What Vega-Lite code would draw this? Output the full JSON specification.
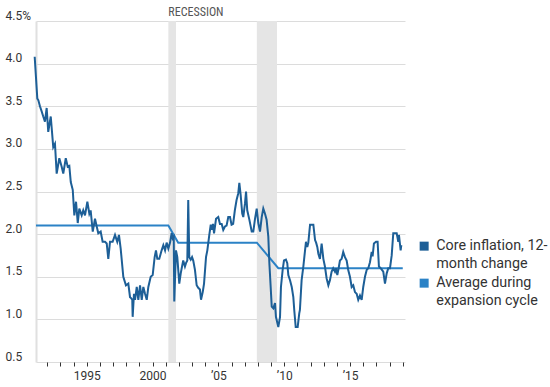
{
  "$schema": "https://vega.github.io/schema/vega-lite/v6.json",
  "width": 369,
  "height": 341,
  "autosize": "none",
  "padding": {"left": 36, "top": 21, "right": 145, "bottom": 25},
  "config": {
    "font": "Roboto",
    "view": {"stroke": null}
  },
  "resolve": {"axis": {"x": "independent"}},
  "datasets": {
    "rec": [
      {"start": 2001.2, "end": 2001.78, "top": 4.5, "label": "RECESSION"},
      {"start": 2007.92, "end": 2009.45, "top": 4.5, "label": ""}
    ],
    "avg": [
      {"year": 1991.15, "value": 2.1, "series": "Average during expansion cycle"},
      {"year": 2001.2, "value": 2.1, "series": "Average during expansion cycle"},
      {"year": 2001.95, "value": 1.9, "series": "Average during expansion cycle"},
      {"year": 2007.92, "value": 1.9, "series": "Average during expansion cycle"},
      {"year": 2009.55, "value": 1.6, "series": "Average during expansion cycle"},
      {"year": 2019.0, "value": 1.6, "series": "Average during expansion cycle"}
    ],
    "core": [
      {"year": 1991.05, "value": 4.08},
      {"year": 1991.25, "value": 3.59},
      {"year": 1991.33, "value": 3.57},
      {"year": 1991.45, "value": 3.5},
      {"year": 1991.58, "value": 3.44},
      {"year": 1991.7, "value": 3.38},
      {"year": 1991.83, "value": 3.32},
      {"year": 1991.96, "value": 3.48},
      {"year": 1992.08, "value": 3.2},
      {"year": 1992.27, "value": 3.38},
      {"year": 1992.46, "value": 3.02},
      {"year": 1992.59, "value": 3.06},
      {"year": 1992.72, "value": 2.71},
      {"year": 1992.92, "value": 2.89},
      {"year": 1993.1, "value": 2.79},
      {"year": 1993.22, "value": 2.71},
      {"year": 1993.41, "value": 2.89},
      {"year": 1993.56, "value": 2.79},
      {"year": 1993.68, "value": 2.8},
      {"year": 1993.79, "value": 2.61},
      {"year": 1993.94, "value": 2.52},
      {"year": 1994.06, "value": 2.22},
      {"year": 1994.19, "value": 2.38},
      {"year": 1994.32, "value": 2.13},
      {"year": 1994.44, "value": 2.3},
      {"year": 1994.62, "value": 2.22},
      {"year": 1994.74, "value": 2.28},
      {"year": 1994.87, "value": 2.22},
      {"year": 1995.05, "value": 2.38},
      {"year": 1995.2, "value": 2.24},
      {"year": 1995.3, "value": 2.28},
      {"year": 1995.46, "value": 2.03},
      {"year": 1995.63, "value": 2.18},
      {"year": 1995.76, "value": 2.09},
      {"year": 1995.88, "value": 2.01},
      {"year": 1996.06, "value": 2.03},
      {"year": 1996.21, "value": 1.91},
      {"year": 1996.39, "value": 1.91},
      {"year": 1996.52, "value": 1.89},
      {"year": 1996.64, "value": 1.71},
      {"year": 1996.77, "value": 1.91},
      {"year": 1996.97, "value": 1.91},
      {"year": 1997.15, "value": 1.99},
      {"year": 1997.32, "value": 1.91},
      {"year": 1997.45, "value": 1.99},
      {"year": 1997.58, "value": 1.83},
      {"year": 1997.78, "value": 1.5},
      {"year": 1997.98, "value": 1.4},
      {"year": 1998.16, "value": 1.42},
      {"year": 1998.29, "value": 1.26},
      {"year": 1998.37, "value": 1.25},
      {"year": 1998.46, "value": 1.23},
      {"year": 1998.49, "value": 1.03},
      {"year": 1998.59, "value": 1.3},
      {"year": 1998.67, "value": 1.23},
      {"year": 1998.8, "value": 1.38},
      {"year": 1998.92, "value": 1.23},
      {"year": 1999.05, "value": 1.4},
      {"year": 1999.18, "value": 1.23},
      {"year": 1999.3, "value": 1.38},
      {"year": 1999.43, "value": 1.3},
      {"year": 1999.56, "value": 1.23},
      {"year": 1999.68, "value": 1.38},
      {"year": 1999.86, "value": 1.5},
      {"year": 2000.01, "value": 1.52},
      {"year": 2000.16, "value": 1.73},
      {"year": 2000.26, "value": 1.81},
      {"year": 2000.36, "value": 1.71},
      {"year": 2000.51, "value": 1.71},
      {"year": 2000.69, "value": 1.81},
      {"year": 2000.82, "value": 1.87},
      {"year": 2000.95, "value": 1.81},
      {"year": 2001.07, "value": 1.9},
      {"year": 2001.2, "value": 1.83},
      {"year": 2001.33, "value": 1.9},
      {"year": 2001.45, "value": 2.01},
      {"year": 2001.53, "value": 1.95},
      {"year": 2001.61, "value": 1.97},
      {"year": 2001.65, "value": 1.21},
      {"year": 2001.78, "value": 1.81},
      {"year": 2001.88, "value": 1.73},
      {"year": 2002.03, "value": 1.42},
      {"year": 2002.14, "value": 1.54},
      {"year": 2002.24, "value": 1.62},
      {"year": 2002.33, "value": 1.69},
      {"year": 2002.46, "value": 1.62},
      {"year": 2002.54, "value": 1.66},
      {"year": 2002.64, "value": 1.69},
      {"year": 2002.71, "value": 2.4},
      {"year": 2002.79, "value": 1.73},
      {"year": 2002.9, "value": 1.7},
      {"year": 2003.0, "value": 1.73},
      {"year": 2003.09, "value": 1.69},
      {"year": 2003.22, "value": 1.58},
      {"year": 2003.35, "value": 1.4},
      {"year": 2003.47, "value": 1.37},
      {"year": 2003.6, "value": 1.35},
      {"year": 2003.68, "value": 1.23},
      {"year": 2003.81, "value": 1.32},
      {"year": 2003.91, "value": 1.42},
      {"year": 2004.06, "value": 1.73},
      {"year": 2004.16, "value": 1.81},
      {"year": 2004.31, "value": 1.99},
      {"year": 2004.42, "value": 2.11},
      {"year": 2004.51, "value": 2.05},
      {"year": 2004.59, "value": 2.12},
      {"year": 2004.67, "value": 2.01},
      {"year": 2004.82, "value": 2.18},
      {"year": 2004.99, "value": 2.2},
      {"year": 2005.12, "value": 2.12},
      {"year": 2005.25, "value": 2.12},
      {"year": 2005.37, "value": 2.05},
      {"year": 2005.5, "value": 2.09},
      {"year": 2005.62, "value": 2.1},
      {"year": 2005.75, "value": 2.2},
      {"year": 2005.88, "value": 2.2},
      {"year": 2006.0, "value": 2.11},
      {"year": 2006.12, "value": 2.12},
      {"year": 2006.25, "value": 2.28},
      {"year": 2006.38, "value": 2.4},
      {"year": 2006.51, "value": 2.48},
      {"year": 2006.59, "value": 2.6},
      {"year": 2006.69, "value": 2.46},
      {"year": 2006.81, "value": 2.24},
      {"year": 2006.89, "value": 2.2},
      {"year": 2007.02, "value": 2.36},
      {"year": 2007.1, "value": 2.5},
      {"year": 2007.19, "value": 2.28},
      {"year": 2007.35, "value": 2.17},
      {"year": 2007.53, "value": 2.03},
      {"year": 2007.65, "value": 2.03},
      {"year": 2007.78, "value": 2.18},
      {"year": 2007.91, "value": 2.3},
      {"year": 2008.03, "value": 2.13},
      {"year": 2008.16, "value": 2.03},
      {"year": 2008.29, "value": 2.2},
      {"year": 2008.41, "value": 2.3},
      {"year": 2008.54, "value": 2.24},
      {"year": 2008.66, "value": 2.17},
      {"year": 2008.79, "value": 1.97},
      {"year": 2008.87, "value": 1.66},
      {"year": 2008.97, "value": 1.38},
      {"year": 2009.05, "value": 1.15},
      {"year": 2009.17, "value": 1.13},
      {"year": 2009.3, "value": 1.19},
      {"year": 2009.37, "value": 1.03},
      {"year": 2009.55, "value": 0.91},
      {"year": 2009.68, "value": 1.03},
      {"year": 2009.75, "value": 1.38},
      {"year": 2009.88, "value": 1.58},
      {"year": 2009.98, "value": 1.69},
      {"year": 2010.13, "value": 1.7},
      {"year": 2010.23, "value": 1.66},
      {"year": 2010.31, "value": 1.52},
      {"year": 2010.44, "value": 1.46},
      {"year": 2010.57, "value": 1.38},
      {"year": 2010.69, "value": 1.26},
      {"year": 2010.76, "value": 1.11},
      {"year": 2010.87, "value": 0.91},
      {"year": 2011.02, "value": 0.91},
      {"year": 2011.14, "value": 1.07},
      {"year": 2011.19, "value": 1.11},
      {"year": 2011.32, "value": 1.46},
      {"year": 2011.45, "value": 1.62},
      {"year": 2011.58, "value": 1.81},
      {"year": 2011.65, "value": 1.91},
      {"year": 2011.75, "value": 1.85},
      {"year": 2011.83, "value": 1.9},
      {"year": 2011.96, "value": 2.11},
      {"year": 2012.08, "value": 2.11},
      {"year": 2012.21, "value": 2.11},
      {"year": 2012.34, "value": 1.93},
      {"year": 2012.42, "value": 1.9},
      {"year": 2012.51, "value": 1.85},
      {"year": 2012.59, "value": 1.77},
      {"year": 2012.71, "value": 1.71},
      {"year": 2012.84, "value": 1.89},
      {"year": 2012.97, "value": 1.71},
      {"year": 2013.09, "value": 1.62},
      {"year": 2013.22, "value": 1.48},
      {"year": 2013.35, "value": 1.4},
      {"year": 2013.47, "value": 1.46},
      {"year": 2013.6, "value": 1.56},
      {"year": 2013.72, "value": 1.6},
      {"year": 2013.85, "value": 1.56},
      {"year": 2013.93, "value": 1.6},
      {"year": 2014.03, "value": 1.52},
      {"year": 2014.13, "value": 1.6},
      {"year": 2014.23, "value": 1.69},
      {"year": 2014.36, "value": 1.71},
      {"year": 2014.48, "value": 1.79},
      {"year": 2014.61, "value": 1.73},
      {"year": 2014.74, "value": 1.69},
      {"year": 2014.86, "value": 1.58},
      {"year": 2014.99, "value": 1.5},
      {"year": 2015.12, "value": 1.38},
      {"year": 2015.24, "value": 1.4},
      {"year": 2015.37, "value": 1.32},
      {"year": 2015.5, "value": 1.3},
      {"year": 2015.62, "value": 1.23},
      {"year": 2015.75, "value": 1.28},
      {"year": 2015.88, "value": 1.23},
      {"year": 2016.0, "value": 1.38},
      {"year": 2016.13, "value": 1.5},
      {"year": 2016.26, "value": 1.58},
      {"year": 2016.38, "value": 1.6},
      {"year": 2016.51, "value": 1.67},
      {"year": 2016.64, "value": 1.79},
      {"year": 2016.71, "value": 1.74},
      {"year": 2016.81, "value": 1.89},
      {"year": 2016.97, "value": 1.91},
      {"year": 2017.09, "value": 1.91},
      {"year": 2017.19, "value": 1.62},
      {"year": 2017.32, "value": 1.6},
      {"year": 2017.52, "value": 1.56},
      {"year": 2017.65, "value": 1.42},
      {"year": 2017.78, "value": 1.54},
      {"year": 2017.9, "value": 1.6},
      {"year": 2018.03, "value": 1.6},
      {"year": 2018.16, "value": 1.75},
      {"year": 2018.28, "value": 2.01},
      {"year": 2018.41, "value": 2.01},
      {"year": 2018.54, "value": 2.01},
      {"year": 2018.66, "value": 1.91},
      {"year": 2018.71, "value": 1.99},
      {"year": 2018.84, "value": 1.81},
      {"year": 2018.89, "value": 1.87}
    ]
  },
  "layer": [
    {
      "data": {"name": "rec"},
      "mark": {"type": "rect", "color": "#e5e5e5"},
      "encoding": {
        "x": {"field": "start", "type": "quantitative",
          "scale": {"domain": [1991.15, 2019.17], "nice": false, "zero": false},
          "axis": {
            "orient": "bottom",
            "values": [1992,1993,1994,1995,1996,1997,1998,1999,2000,2001,2002,2003,2004,2005,2006,2007,2008,2009,2010,2011,2012,2013,2014,2015,2016,2017,2018,2019],
            "labels": false,
            "title": null,
            "grid": false,
            "domain": false,
            "ticks": true,
            "tickSize": 4,
            "tickColor": "#333333",
            "tickWidth": 1
          }
        },
        "x2": {"field": "end"},
        "y": {"datum": 0.5, "type": "quantitative",
          "scale": {"domain": [0.5, 4.5], "nice": false, "zero": false},
          "axis": {
            "values": [0.5, 1, 1.5, 2, 2.5, 3, 3.5, 4, 4.5],
            "labelExpr": "datum.value == 4.5 ? '4.5%' : format(datum.value, '.1f')",
            "title": null,
            "grid": true,
            "gridColor": "#dcdcdc",
            "gridWidth": 1,
            "domain": true,
            "domainColor": "#e0e0e0",
            "domainWidth": 2,
            "ticks": false,
            "tickSize": 0,
            "labelAlign": "left",
            "labelBaseline": "alphabetic",
            "labelPadding": 31,
            "labelOffset": -2,
            "labelFontSize": 12,
            "labelColor": "#333333",
            "labelFont": "Roboto"
          }
        },
        "y2": {"datum": 4.5}
      }
    },
    {
      "data": {"name": "rec"},
      "mark": {"type": "text", "align": "left", "baseline": "bottom", "dy": -2, "fontSize": 12, "color": "#555555", "font": "Roboto Condensed, Liberation Sans Narrow, Roboto"},
      "encoding": {
        "x": {"field": "start", "type": "quantitative",
          "axis": {
            "orient": "bottom",
            "values": [1995, 2000, 2005, 2010, 2015],
            "labelExpr": "datum.value <= 2000 ? toString(datum.value) : '\u2019' + substring(toString(datum.value), 2)",
            "title": null,
            "grid": false,
            "domain": false,
            "ticks": false,
            "labelPadding": 8,
            "labelFontSize": 12,
            "labelColor": "#333333",
            "labelFont": "Roboto",
            "labelOverlap": false
          }
        },
        "y": {"field": "top", "type": "quantitative"},
        "text": {"field": "label"}
      }
    },
    {
      "data": {"name": "avg"},
      "mark": {"type": "line", "strokeWidth": 2},
      "encoding": {
        "x": {"field": "year", "type": "quantitative", "axis": null},
        "y": {"field": "value", "type": "quantitative"},
        "color": {"field": "series", "type": "nominal",
          "scale": {"domain": ["Core inflation, 12-month change", "Average during expansion cycle"], "range": ["#1d5f97", "#2b82c6"]},
          "legend": {
            "orient": "none",
            "legendX": 381,
            "legendY": 218,
            "title": null,
            "symbolType": "square",
            "symbolSize": 81,
            "symbolStrokeWidth": 0,
            "labelOffset": 5,
            "labelFontSize": 14.3,
            "labelColor": "#333333",
            "labelFont": "Roboto",
            "labelLimit": 200,
            "labelBaseline": "top",
            "rowPadding": 4,
            "labelExpr": "datum.label == 'Core inflation, 12-month change' ? ['Core inflation, 12-', 'month change'] : ['Average during', 'expansion cycle']",
            "encode": {
              "symbols": {"update": {"fill": {"scale": "color", "field": "value"}, "strokeWidth": {"value": 0}}},
              "labels": {"update": {"lineHeight": {"value": 18}, "dy": {"value": -7}}}
            }
          }
        }
      }
    },
    {
      "data": {"name": "core"},
      "transform": [{"calculate": "'Core inflation, 12-month change'", "as": "series"}],
      "mark": {"type": "line", "strokeWidth": 2},
      "encoding": {
        "x": {"field": "year", "type": "quantitative", "axis": null},
        "y": {"field": "value", "type": "quantitative"},
        "color": {"field": "series", "type": "nominal"}
      }
    }
  ]
}
